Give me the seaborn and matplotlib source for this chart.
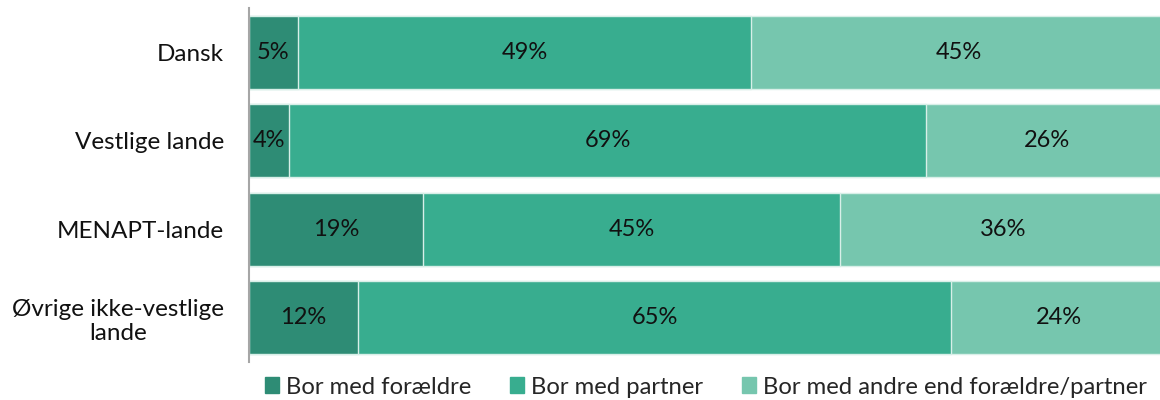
import matplotlib
matplotlib.use("Agg")
import matplotlib.pyplot as plt
import matplotlib.patches as mpatches
import seaborn as sns
import pandas as pd
import numpy as np

categories = ["Dansk", "Vestlige lande", "MENAPT-lande", "Øvrige ikke-vestlige\nlande"]
series_names = ["Bor med forældre", "Bor med partner", "Bor med andre end forældre/partner"]
foraeldre = [5.3, 4.4, 19.0, 11.9]
partner = [49.4, 69.4, 45.4, 64.6]
andre = [45.3, 26.2, 35.6, 23.5]
colors = ["#2E8C75", "#38AD8F", "#76C6AE"]

sns.set_theme(style="white")
plt.rcParams['font.family'] = ['Lato', 'DejaVu Sans']

fig = plt.figure(figsize=(11.6, 4.0), dpi=100)
ax = fig.add_axes([249/1160, 1 - 362/400, 918/1160, 354/400])

df = pd.DataFrame({"cat": categories, "f": foraeldre, "p": partner, "a": andre})
df["c1"] = df["f"]
df["c2"] = df["f"] + df["p"]
df["c3"] = df["c2"] + df["a"]

for col, color in zip(["c3", "c2", "c1"], colors[::-1]):
    sns.barplot(data=df, x=col, y="cat", orient="h", color=color, width=0.83,
                edgecolor="#D8EFE8", linewidth=1.0, ax=ax, saturation=1)

lefts = np.zeros(len(categories))
for vals in [foraeldre, partner, andre]:
    for i, v in enumerate(vals):
        ax.text(lefts[i] + v / 2, i, f"{round(v):d}%", ha="center", va="center",
                fontsize=17, color="#111111")
    lefts += np.array(vals)

ax.set_xlim(0, 100)
ax.set_ylim(3.5, -0.5)
ax.set_xlabel("")
ax.set_ylabel("")
ax.set_xticks([])
for s in ["top", "right", "bottom"]:
    ax.spines[s].set_visible(False)
ax.spines["left"].set_color("#A6A6A6")
ax.spines["left"].set_linewidth(1.5)
ax.tick_params(axis="y", length=0, pad=18, labelsize=17.5, labelcolor="#111111")
for lbl in ax.get_yticklabels():
    lbl.set_multialignment("center")
    lbl.set_linespacing(1.2)

handles = [mpatches.Patch(color=c, label=n) for c, n in zip(colors, series_names)]
fig.legend(handles=handles, loc="center", bbox_to_anchor=(706/1160, 1 - 387/400),
           ncol=3, frameon=False, fontsize=17.2, handlelength=0.6, handleheight=0.6,
           handletextpad=0.3, columnspacing=1.6, borderaxespad=0, borderpad=0)

fig.savefig("out.png", dpi=100)
